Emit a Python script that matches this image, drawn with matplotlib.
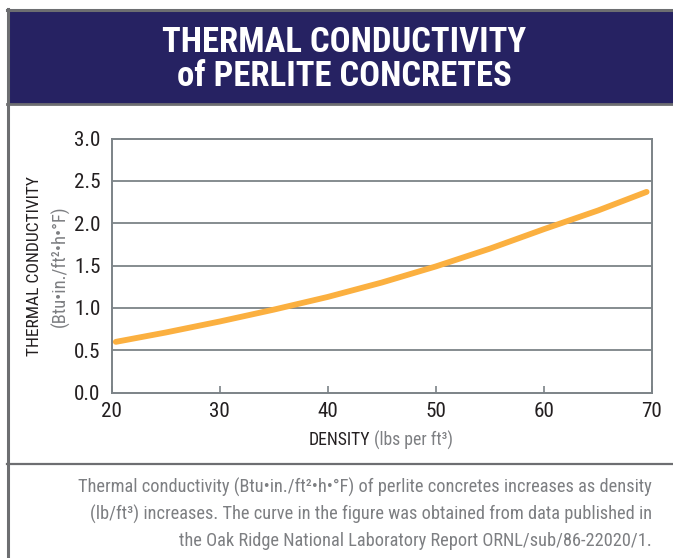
import numpy as np
import matplotlib
matplotlib.use('Agg')
import matplotlib.pyplot as plt
from matplotlib import font_manager
from matplotlib.patches import Rectangle
from matplotlib.lines import Line2D

# data
density = [20.4, 25, 30, 35, 40, 45, 50, 55, 60, 65, 69.5]
conductivity = [0.60, 0.71, 0.84, 0.98, 1.13, 1.30, 1.49, 1.70, 1.93, 2.15, 2.37]
x_ticks = [20, 30, 40, 50, 60, 70]
y_ticks = [0.0, 0.5, 1.0, 1.5, 2.0, 2.5, 3.0]

title_lines = ['THERMAL CONDUCTIVITY', 'of PERLITE CONCRETES']
caption_lines = ['Thermal conductivity (Btu\u2022in./ft\u00b2\u2022h\u2022\u00b0F) of perlite concretes increases as density',
                 '(lb/ft\u00b3) increases. The curve in the figure was obtained from data published in',
                 'the Oak Ridge National Laboratory Report ORNL/sub/86-22020/1.']

# narrowest installed sans
fonts = font_manager.fontManager.ttflist
family, stretch = 'DejaVu Sans', 'normal'
for name, st in [('Liberation Sans Narrow', None), ('Roboto Condensed', None),
                 ('DejaVu Sans', 'condensed'), ('Roboto', None)]:
    if any(f.name == name and (st is None or f.stretch == st) for f in fonts):
        family, stretch = name, (st or 'normal')
        break
plt.rcParams['font.family'] = [family, 'DejaVu Sans']
plt.rcParams['font.stretch'] = stretch

W, H = 673, 558
fig = plt.figure(figsize=(W / 100, H / 100), dpi=100)
renderer = fig.canvas.get_renderer()

def fx(px):
    return px / W

def fy(py):
    return 1 - py / H

def fit(t, target, vertical=False):
    bb = t.get_window_extent(renderer)
    size = bb.height if vertical else bb.width
    t.set_fontsize(t.get_fontsize() * target / size)
    return t.get_fontsize()

navy = '#262262'
frame = '#6d6e71'
grid_c = '#7c8387'
dark = '#231f20'
grey_txt = '#7d7f82'
orange = '#fbb040'

# banner and frame
fig.patches.append(Rectangle((fx(9), fy(103)), fx(673) - fx(9), fy(11) - fy(103),
                             transform=fig.transFigure, color=navy, zorder=0))
for (x0, y0, x1, y1, lw) in [(7, 9.5, 673, 9.5, 2.2), (7.5, 9, 7.5, 558, 2.2),
                             (7, 103.5, 673, 103.5, 2.0), (7, 464, 673, 464, 1.6)]:
    fig.lines.append(Line2D([fx(x0), fx(x1)], [fy(y0), fy(y1)], transform=fig.transFigure,
                            color=frame, lw=lw, zorder=1))

t1 = fig.text(fx(344), fy(42), title_lines[0], color='white', fontsize=24, fontweight='bold',
              ha='center', va='center')
ts = fit(t1, 365)
fig.text(fx(344), fy(76), title_lines[1], color='white', fontsize=ts, fontweight='bold',
         ha='center', va='center')

# chart
ax = fig.add_axes([fx(111.5), fy(392.7), fx(652) - fx(111.5), fy(138.5) - fy(392.7)])
for y in y_ticks[1:-1]:
    ax.axhline(y, color=grid_c, lw=1.3, zorder=1)
ax.plot(density, conductivity, color=orange, lw=4.2, solid_capstyle='round', zorder=3)
ax.set_xlim(20, 70)
ax.set_ylim(0, 3)
ax.set_xticks(x_ticks)
ax.set_yticks(y_ticks)
ax.set_yticklabels(['%.1f' % v for v in y_ticks])

probe = fig.text(0, 0, '3.0', fontsize=13)
tick_size = fit(probe, 22) * 1.2
probe.remove()
ax.tick_params(axis='x', direction='in', length=5, width=1.2, color=grid_c, pad=7,
               labelsize=tick_size, labelcolor=dark)
ax.tick_params(axis='y', length=0, pad=8, labelsize=tick_size, labelcolor=dark)
for s in ax.spines.values():
    s.set_color(grid_c)
    s.set_linewidth(1.4)

# axis labels
yl = fig.text(fx(35), fy(266), 'THERMAL CONDUCTIVITY', rotation=90, ha='center', va='center',
              fontsize=12.5, color=dark)
fit(yl, 180, vertical=True)
yl2 = fig.text(fx(60), fy(266), '(Btu\u2022in./ft\u00b2\u2022h\u2022\u00b0F)', rotation=90, ha='center',
               va='center', fontsize=12.5, color=grey_txt)
fit(yl2, 123, vertical=True)
xl = fig.text(fx(370), fy(440), 'DENSITY', ha='right', va='center', fontsize=13, color=dark)
xs = fit(xl, 61)
fig.text(fx(374), fy(440), '(lbs per ft\u00b3)', ha='left', va='center', fontsize=xs, color=grey_txt)

# caption
c0 = fig.text(fx(652), fy(493), caption_lines[0], ha='right', va='baseline', fontsize=13,
              color=grey_txt)
cs = fit(c0, 572)
for i, line in enumerate(caption_lines[1:], start=1):
    fig.text(fx(652), fy(493 + 26.5 * i), line, ha='right', va='baseline', fontsize=cs,
             color=grey_txt)

fig.savefig('out.png', dpi=100)
plt.close()
